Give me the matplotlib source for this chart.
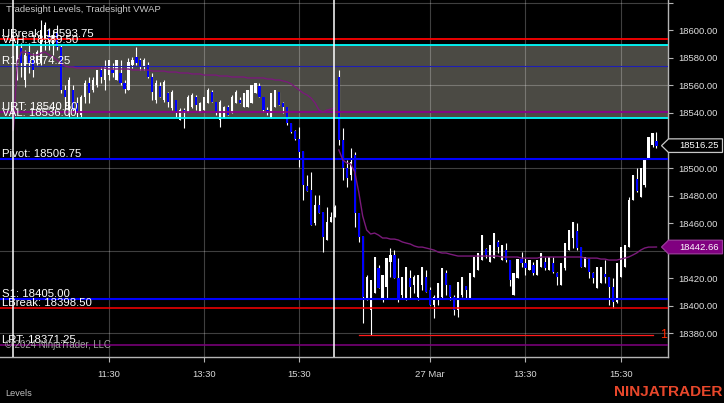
import matplotlib
matplotlib.use('Agg')
import matplotlib.pyplot as plt
from matplotlib.patches import Polygon
from matplotlib.transforms import IdentityTransform
import numpy as np

plt.rcParams['font.family'] = ['Liberation Sans', 'DejaVu Sans']

# 5 minute bars: 26 Mar = index 0..80, 27 Mar = index 81..161
opens = [18567.5, 18587.0, 18564.0, 18584.25, 18578.5, 18576.25, 18577.0, 18593.0, 18600.25, 18589.25,
         18598.0, 18588.0, 18556.5, 18542.0, 18556.5, 18547.25, 18538.5, 18551.5, 18561.75, 18556.5,
         18560.25, 18571.25, 18564.0, 18567.5, 18571.25, 18564.0, 18569.0, 18561.75, 18556.5, 18574.75,
         18580.5, 18578.5, 18574.0, 18574.75, 18566.0, 18549.5, 18559.5, 18549.5, 18554.5, 18543.5,
         18549.5, 18535.0, 18542.0, 18540.75, 18544.25, 18551.5, 18540.75, 18542.0, 18547.25, 18555.25,
         18548.0, 18535.0, 18536.25, 18544.25, 18540.0, 18547.25, 18549.5, 18544.25, 18544.25, 18547.25,
         18554.5, 18559.5, 18551.5, 18542.0, 18536.25, 18544.25, 18555.25, 18547.25, 18544.25, 18532.75,
         18527.0, 18521.0, 18512.25, 18487.0, 18484.0, 18460.0, 18473.0, 18468.0, 18447.75, 18460.75,
         18464.5,
         18566.0, 18520.25, 18500.0, 18495.0, 18509.5, 18467.25, 18450.5, 18404.25, 18397.0, 18409.25,
         18427.5, 18405.5, 18413.5, 18431.75, 18436.75, 18420.0, 18407.75, 18405.5, 18420.0, 18415.0,
         18406.25, 18415.0, 18420.75, 18411.5, 18400.5, 18404.25, 18406.25, 18423.75, 18415.0, 18406.25,
         18397.0, 18407.75, 18414.25, 18405.5, 18420.75, 18426.0, 18433.25, 18441.25, 18431.75, 18434.75,
         18446.25, 18433.25, 18440.5, 18433.25, 18407.75, 18420.0, 18434.0, 18431.0, 18426.0, 18429.5,
         18422.25, 18428.0, 18431.75, 18426.0, 18431.0, 18423.75, 18415.0, 18427.5, 18440.5, 18449.25,
         18454.25, 18442.75, 18428.0, 18434.75, 18423.75, 18413.0, 18416.5, 18423.0, 18420.75, 18413.5,
         18402.75, 18420.75, 18428.0, 18442.75, 18476.75, 18492.0, 18479.0, 18487.75, 18507.25, 18516.75,
         18519.5]
highs = [18593.0, 18590.75, 18585.75, 18590.75, 18583.5, 18585.75, 18607.5, 18606.0, 18601.75, 18600.25,
         18603.75, 18589.25, 18560.25, 18566.0, 18560.25, 18551.5, 18553.0, 18564.0, 18566.0, 18566.0,
         18571.25, 18573.25, 18578.5, 18578.5, 18576.25, 18578.5, 18578.5, 18564.0, 18580.0, 18580.5,
         18588.0, 18580.0, 18580.0, 18577.0, 18569.0, 18564.0, 18562.5, 18564.0, 18555.25, 18556.5,
         18549.5, 18543.5, 18543.5, 18553.0, 18554.5, 18553.0, 18548.0, 18551.5, 18558.0, 18556.5,
         18548.0, 18549.5, 18545.0, 18545.75, 18553.0, 18556.5, 18551.5, 18554.5, 18556.5, 18560.25,
         18561.75, 18561.75, 18551.5, 18544.25, 18554.5, 18556.5, 18555.25, 18548.0, 18544.25, 18532.75,
         18527.5, 18529.75, 18512.25, 18495.0, 18497.0, 18480.5, 18480.5, 18468.0, 18471.75, 18468.0,
         18473.0,
         18571.25, 18529.0, 18505.75, 18514.5, 18511.5, 18467.25, 18450.5, 18422.25, 18418.75, 18435.25,
         18429.5, 18422.25, 18434.75, 18442.0, 18440.5, 18434.75, 18420.75, 18428.0, 18426.0, 18422.25,
         18422.25, 18428.0, 18426.0, 18413.5, 18407.75, 18416.5, 18427.5, 18426.0, 18415.0, 18407.75,
         18417.25, 18420.75, 18414.25, 18423.75, 18435.25, 18438.25, 18451.25, 18442.0, 18444.0, 18452.75,
         18447.75, 18444.0, 18445.5, 18433.25, 18423.75, 18434.0, 18439.0, 18434.75, 18433.25, 18431.75,
         18433.25, 18438.25, 18435.25, 18435.25, 18435.25, 18424.5, 18431.0, 18445.5, 18455.0, 18460.75,
         18460.0, 18442.75, 18435.25, 18434.75, 18424.5, 18428.0, 18428.0, 18433.25, 18420.75, 18420.0,
         18431.0, 18442.75, 18444.0, 18479.0, 18495.0, 18500.0, 18500.0, 18507.25, 18522.5, 18525.5,
         18526.0]
lows = [18564.0, 18566.0, 18558.75, 18569.0, 18566.0, 18574.75, 18574.75, 18585.75, 18585.75, 18582.0,
        18585.75, 18554.5, 18542.0, 18537.0, 18540.75, 18537.0, 18537.0, 18547.25, 18547.25, 18555.25,
        18558.75, 18561.75, 18556.5, 18564.0, 18566.0, 18564.0, 18560.25, 18554.5, 18556.5, 18572.5,
        18574.75, 18571.25, 18571.25, 18565.25, 18549.5, 18547.25, 18551.5, 18548.0, 18544.25, 18542.0,
        18537.0, 18535.0, 18529.0, 18540.75, 18543.5, 18542.0, 18540.75, 18542.0, 18547.25, 18548.0,
        18538.5, 18529.75, 18536.25, 18538.5, 18540.0, 18547.25, 18547.25, 18544.25, 18544.25, 18547.25,
        18554.5, 18551.5, 18540.75, 18538.5, 18536.25, 18544.25, 18545.75, 18540.0, 18531.25, 18525.5,
        18520.25, 18500.75, 18476.75, 18483.25, 18458.5, 18458.5, 18467.25, 18439.0, 18447.75, 18460.75,
        18464.5,
        18516.75, 18491.25, 18486.25, 18491.25, 18457.25, 18446.25, 18387.5, 18404.25, 18378.75, 18409.25,
        18413.0, 18402.75, 18405.5, 18420.75, 18420.0, 18402.75, 18405.5, 18404.25, 18405.5, 18409.25,
        18404.25, 18411.5, 18410.0, 18400.5, 18391.0, 18400.5, 18405.5, 18407.75, 18404.25, 18393.25,
        18391.75, 18406.25, 18405.0, 18405.5, 18420.75, 18426.0, 18433.25, 18434.75, 18431.75, 18434.75,
        18438.25, 18433.25, 18431.75, 18414.25, 18407.75, 18420.0, 18428.0, 18422.25, 18426.0, 18422.25,
        18422.25, 18428.0, 18426.0, 18426.0, 18423.75, 18415.0, 18415.0, 18426.0, 18440.5, 18442.0,
        18440.5, 18428.0, 18428.0, 18420.0, 18416.5, 18413.0, 18416.5, 18416.5, 18400.5, 18398.25,
        18402.0, 18420.75, 18428.0, 18442.75, 18476.75, 18482.5, 18479.0, 18486.25, 18507.25, 18515.25,
        18514.5]
closes = [18589.25, 18576.25, 18582.0, 18576.25, 18571.25, 18584.25, 18600.25, 18603.75, 18593.0, 18596.5,
          18588.0, 18556.5, 18551.5, 18564.0, 18542.0, 18540.0, 18551.5, 18561.75, 18554.5, 18564.0,
          18571.25, 18566.0, 18573.25, 18578.5, 18569.0, 18578.5, 18561.75, 18557.5, 18577.0, 18578.5,
          18576.25, 18573.25, 18578.5, 18566.0, 18555.25, 18561.75, 18551.5, 18562.5, 18548.0, 18555.25,
          18540.0, 18542.0, 18541.5, 18551.5, 18553.0, 18545.75, 18547.25, 18551.5, 18556.5, 18548.0,
          18540.0, 18548.0, 18544.25, 18538.5, 18551.5, 18555.25, 18547.25, 18554.5, 18556.5, 18560.25,
          18561.75, 18551.5, 18542.0, 18540.0, 18554.5, 18556.5, 18545.75, 18544.25, 18532.75, 18526.25,
          18521.0, 18511.5, 18487.75, 18483.25, 18458.5, 18473.0, 18467.25, 18450.0, 18460.75, 18464.5,
          18471.75,
          18520.25, 18500.0, 18492.75, 18504.5, 18467.25, 18450.0, 18406.25, 18420.75, 18418.75, 18435.25,
          18413.0, 18422.25, 18434.75, 18436.75, 18420.0, 18405.5, 18420.75, 18428.0, 18413.5, 18420.75,
          18422.25, 18428.0, 18410.0, 18400.5, 18406.25, 18416.5, 18427.5, 18415.0, 18406.25, 18397.0,
          18417.25, 18420.75, 18411.5, 18423.75, 18435.25, 18438.25, 18451.25, 18436.75, 18444.0, 18452.75,
          18442.75, 18444.0, 18433.25, 18418.75, 18423.75, 18434.0, 18431.0, 18427.5, 18433.25, 18423.75,
          18433.25, 18438.25, 18427.5, 18435.25, 18424.5, 18420.75, 18431.0, 18445.5, 18455.0, 18460.75,
          18442.0, 18428.0, 18435.25, 18424.5, 18420.0, 18428.0, 18428.0, 18420.75, 18413.5, 18402.75,
          18431.0, 18442.75, 18444.0, 18476.75, 18495.0, 18483.25, 18500.0, 18507.25, 18522.5, 18525.5,
          18516.25]

# Tradesight VWAP, read per bar (day 1 starts one bar early, from the prior session)
vwap_day1 = [18527.6, 18577.0, 18584.2, 18584.2, 18582.8, 18582.1, 18582.1, 18583.5, 18584.2, 18582.1,
             18580.6, 18578.4, 18576.2, 18574.1, 18573.3, 18573.3, 18572.6, 18572.6, 18572.6, 18572.6,
             18572.6, 18572.6, 18572.6, 18572.6, 18571.9, 18571.9, 18571.9, 18571.9, 18571.9, 18571.9,
             18571.2, 18571.2, 18571.2, 18571.2, 18571.2, 18570.4, 18570.4, 18570.4, 18570.4, 18569.7,
             18569.7, 18569.7, 18569.0, 18569.0, 18569.0, 18568.3, 18568.3, 18568.3, 18567.5, 18567.5,
             18567.5, 18567.5, 18566.8, 18566.8, 18566.8, 18566.1, 18566.1, 18566.1, 18566.1, 18565.4,
             18565.4, 18565.4, 18565.4, 18565.4, 18564.6, 18564.6, 18563.9, 18563.9, 18563.2, 18562.5,
             18561.0, 18558.8, 18556.6, 18554.5, 18553.0, 18550.8, 18547.2, 18542.1, 18540.7, 18542.1,
             18542.8, 18543.6]
vwap_day2 = [18513.1, 18505.8, 18503.6, 18502.9, 18497.1, 18482.6, 18465.1, 18455.0, 18452.1, 18452.8,
             18451.3, 18449.2, 18449.2, 18448.4, 18448.4, 18447.7, 18446.3, 18445.5, 18444.8, 18443.4,
             18442.6, 18442.6, 18441.9, 18441.2, 18440.4, 18439.0, 18438.3, 18438.3, 18437.5, 18436.8,
             18436.1, 18436.1, 18436.1, 18436.1, 18436.1, 18436.1, 18436.1, 18436.1, 18436.1, 18436.1,
             18436.1, 18435.4, 18435.4, 18435.4, 18435.4, 18435.4, 18434.6, 18434.6, 18434.6, 18434.6,
             18434.6, 18435.4, 18435.4, 18435.4, 18435.4, 18435.4, 18435.4, 18435.4, 18435.4, 18435.4,
             18435.4, 18435.4, 18434.6, 18434.6, 18434.6, 18434.6, 18433.9, 18433.9, 18433.2, 18433.2,
             18433.2, 18433.9, 18434.6, 18435.4, 18436.8, 18438.3, 18440.4, 18441.9, 18442.6, 18442.6,
             18442.66]

# Tradesight levels
level_names = ['UBreak', 'VAH', 'R1', 'URT', 'VAL', 'Pivot', 'S1', 'LBreak', 'LRT']
level_values = [18593.75, 18589.50, 18574.25, 18540.50, 18536.00, 18506.75, 18405.00, 18398.50, 18371.25]
level_colors = ['#ff0000', '#00ffff', '#1e1eb4', '#8b008b', '#00ffff', '#0000ff', '#0000ff', '#ff0000', '#800080']
level_widths = [1.3, 1.3, 0.8, 1.3, 1.3, 1.5, 1.5, 1.1, 1.1]

# red ray from the day 2 low, with its "1" tag
ray_price = 18378.5
ray_start, ray_end = 86, 160

tick_pos = [23, 47, 71, 104, 128, 152]
tick_labels = ['11:30', '13:30', '15:30', '27 Mar', '13:30', '15:30']
session_breaks = [-1.0, 79.85]
grid_prices = [18380, 18440, 18500, 18560, 18620]
last_price = closes[-1]
last_vwap = vwap_day2[-1]

W, H = 724, 403
fig = plt.figure(figsize=(W / 100, H / 100), dpi=100, facecolor='black')
ax = fig.add_axes([0, 46 / H, 668 / W, 357 / H], facecolor='black')
ax.set_xlim(-4.36, 163.9)
ax.set_ylim(18362.8, 18622.0)

# value area band
ax.axhspan(level_values[4], level_values[1], color='#4b4a44', lw=0, zorder=0.5)

# grid
for g in grid_prices:
    ax.axhline(g, color='white', alpha=0.25, lw=0.8, zorder=0.8)
for t in tick_pos:
    ax.axvline(t, color='white', alpha=0.25, lw=0.8, zorder=0.8)

# candles
idx = np.arange(len(opens))
o = np.array(opens)
c = np.array(closes)
up = c >= o
body_col = np.where(up, 'white', '#0000ff')
ax.vlines(idx, lows, highs, color='white', lw=0.8, zorder=2)
ax.bar(idx, np.abs(c - o), bottom=np.minimum(o, c), width=0.55,
       color=body_col, lw=0, zorder=2.2)

# levels
for name, val, col, lw in zip(level_names, level_values, level_colors, level_widths):
    ax.axhline(val, color=col, lw=lw, zorder=3)
    ax.annotate(f'{name}: {val:.2f}', xy=(0, val), xycoords=ax.get_yaxis_transform(),
                xytext=(2, 2), textcoords='offset pixels', ha='left', va='baseline',
                color='white', fontsize=8.2, zorder=6)

ax.plot([ray_start, ray_end], [ray_price, ray_price], color='#ff1a1a', lw=0.9, zorder=3)
ax.text(161.8, ray_price, '1', color='#ff2a00', fontsize=9, ha='left', va='center', zorder=6)

# vwap
ax.plot(np.arange(-1, 81), vwap_day1, color='#7a1a7a', lw=1.0, zorder=3.5)
ax.plot(np.arange(81, 162), vwap_day2, color='#7a1a7a', lw=1.0, zorder=3.5)

# session breaks
for s in session_breaks:
    ax.axvline(s, color='white', lw=1.1, zorder=4)

# axes styling
for side in ['top', 'left']:
    ax.spines[side].set_visible(False)
for side in ['bottom', 'right']:
    ax.spines[side].set_color('#b4b4b4')
    ax.spines[side].set_linewidth(1.0)
ax.yaxis.tick_right()
yt = np.arange(18380, 18621, 20)
hidden = [18440, 18520, 18620]  # under the price flags / off the top
ax.set_yticks(yt)
ax.set_yticklabels(['' if v in hidden else f'{v:.2f}' for v in yt])
ax.set_xticks(tick_pos)
ax.set_xticklabels(tick_labels)
ax.tick_params(axis='y', direction='out', length=3.6, width=0.8, color='#b4b4b4',
               labelcolor='#e0e0e0', labelsize=6.8, pad=3.6)
ax.tick_params(axis='x', direction='out', length=3.6, width=0.8, color='#b4b4b4',
               labelcolor='#d8d8d8', labelsize=6.8, pad=5.6)


def price_flag(price, text, face, edge):
    yc = ax.transData.transform((0, price))[1]
    pts = [(661.5, yc), (668.5, yc + 6.8), (722.5, yc + 6.8), (722.5, yc - 6.8), (668.5, yc - 6.8)]
    fig.add_artist(Polygon(pts, closed=True, facecolor=face, edgecolor=edge, lw=0.9,
                           transform=IdentityTransform(), zorder=5))
    fig.text(679 / W, yc / H, text, color='white', fontsize=6.8, ha='left', va='center', zorder=6)


price_flag(last_price, f'{last_price:.2f}', 'black', '#c8c8c8')
price_flag(last_vwap, f'{last_vwap:.2f}', '#800080', '#9a3a9a')

# captions
fig.text(6 / W, 1 - 10 / H, 'Tradesight Levels, Tradesight VWAP', color='#c8c8c8',
         fontsize=6.8, ha='left', va='center')
fig.text(5 / W, 1 - 344.5 / H, '\u00a9 2024 NinjaTrader, LLC', color='#a0a0a0',
         fontsize=6.9, ha='left', va='center')
fig.text(5 / W, 1 - 393.5 / H, 'Levels', color='#c0c0c0', fontsize=6.6, ha='left', va='center')
fig.text(722 / W, 1 - 392 / H, 'NINJATRADER', color='#e8472b', fontsize=11.1,
         fontweight='bold', ha='right', va='center')

fig.savefig('out.png', dpi=100, facecolor='black')
